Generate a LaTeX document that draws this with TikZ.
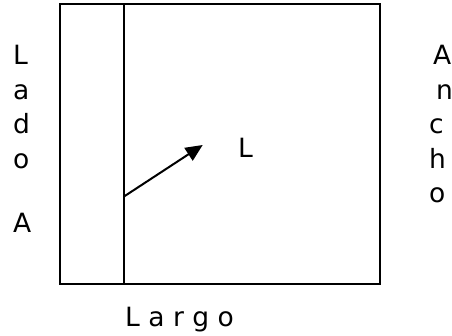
\documentclass[tikz,border=0pt]{standalone}
\usepackage{fontspec}
\setmainfont{DejaVu Sans}
\usepackage{tikz}
\usetikzlibrary{arrows.meta, positioning, calc}

\tikzset{
	word/.style={inner sep=0pt, font=\fontsize{26.5}{34.5}\selectfont},
	stack/.style={word, align=left, anchor=north west},
	edge/.style={line width=2pt}
}

\begin{document}
\begin{tikzpicture}[x=1pt,y=-1pt]
	\useasboundingbox (0,0) rectangle (452,335);
	\draw[edge] (59.5,4) rectangle (380,284);
	\draw[edge] (123.7,4) -- (123.7,284);
	\coordinate (start) at (123.7,196.7);
	\coordinate (tip) at (202.7,145);
	\draw[edge,-{Triangle[length=17pt,width=15pt]}] (start) -- (tip);
	\node[word,anchor=base west] (ell) at (238,157) {L};
	\node[stack] (lado) at (13,45) {L\\a\\d\\o\\[30pt]A};
	\node[stack] (ancho) at (429,45) {\hspace{4pt}A\\\hspace{7pt}n\\c\\h\\o};
	\node[word,anchor=base west] (largo) at (125,326) {L a r g o};
\end{tikzpicture}
\end{document}
